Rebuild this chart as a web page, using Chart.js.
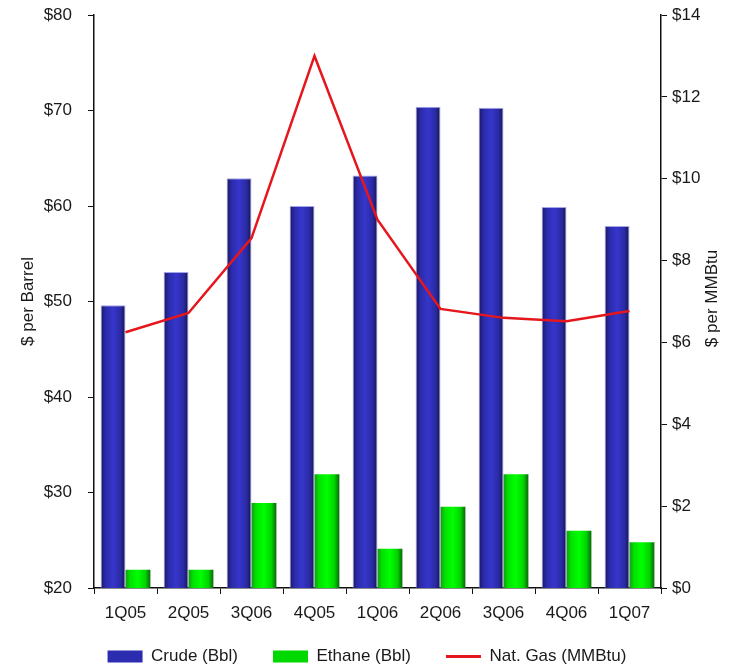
<!DOCTYPE html>
<html>
<head>
<meta charset="utf-8">
<script src="https://cdn.jsdelivr.net/npm/chart.js@4/dist/chart.umd.min.js"></script>
<style>
  body { margin: 0; background: #fff; }
  canvas { display: block; }
</style>
</head>
<body>
<canvas id="prices" width="734" height="665"></canvas>
<script>
const quarters = ['1Q05', '2Q05', '3Q06', '4Q05', '1Q06', '2Q06', '3Q06', '4Q06', '1Q07'];
const crude = [49.6, 53.1, 62.9, 60.0, 63.2, 70.4, 70.3, 59.9, 57.9];
const ethane = [21.9, 21.9, 28.9, 31.9, 24.1, 28.5, 31.9, 26.0, 24.8];
const natGas = [6.25, 6.72, 8.55, 13.0, 9.0, 6.82, 6.6, 6.52, 6.77];
const barrelTicks = [20, 30, 40, 50, 60, 70, 80];
const mmbtuTicks = [0, 2, 4, 6, 8, 10, 12, 14];

const FONT = '"Liberation Sans", Arial, sans-serif';
const INK = '#1a1a1a';
const CAT_PCT = 0.79;

const blueStops = [[0, '#17175a'], [0.2, '#2b2bab'], [0.5, '#3636cc'], [0.8, '#2a2aa4'], [1, '#15154e']];
const greenStops = [[0, '#159a15'], [0.18, '#00e200'], [0.5, '#00ff00'], [0.8, '#00d400'], [1, '#0b660b']];

// horizontal shading across each bar, like the old office-style cylinders
function barShade(stops, fallback) {
  return (c) => {
    const chart = c.chart;
    const xs = chart.scales.x;
    if (!chart.chartArea || !xs || c.dataIndex == null) return fallback;
    const center = xs.getPixelForValue(c.dataIndex);
    const w = xs.width / quarters.length * CAT_PCT / 2;
    const left = c.datasetIndex === 0 ? center - w : center;
    const g = chart.ctx.createLinearGradient(left, 0, left + w, 0);
    stops.forEach(([o, col]) => g.addColorStop(o, col));
    return g;
  };
}

// fixed box widths for the value axes, no extra room for half labels
function fixWidth(w) {
  return (s) => {
    s.width = w;
    s.paddingTop = 0;
    s.paddingBottom = 0;
  };
}

// right-hand axis title reads bottom-to-top like the left one
const rightTitle = {
  id: 'rightTitle',
  afterDraw(chart) {
    const { ctx, chartArea } = chart;
    ctx.save();
    ctx.translate(712, (chartArea.top + chartArea.bottom) / 2 - 3);
    ctx.rotate(-Math.PI / 2);
    ctx.font = '17px ' + FONT;
    ctx.fillStyle = INK;
    ctx.textAlign = 'center';
    ctx.textBaseline = 'middle';
    ctx.fillText('$ per MMBtu', 0, 0);
    ctx.restore();
  }
};

// wide gaps between legend items come from labels.padding, which also
// pushes the row down; pull the legend back up after layout
const legendLift = {
  id: 'legendLift',
  afterLayout(chart) {
    const lg = chart.legend;
    if (!lg) return;
    lg.top -= 10;
    lg.bottom -= 10;
  }
};

const chart = new Chart(document.getElementById('prices'), {
  type: 'bar',
  data: {
    labels: quarters,
    datasets: [
      {
        label: 'Crude (Bbl)',
        data: crude,
        yAxisID: 'y',
        backgroundColor: barShade(blueStops, '#3030c0'),
        borderColor: 'rgba(150,150,225,0.85)',
        borderWidth: 1,
        categoryPercentage: CAT_PCT,
        barPercentage: 1,
        order: 2
      },
      {
        label: 'Ethane (Bbl)',
        data: ethane,
        yAxisID: 'y',
        backgroundColor: barShade(greenStops, '#00e000'),
        borderWidth: 0,
        categoryPercentage: CAT_PCT,
        barPercentage: 1,
        order: 2
      },
      {
        type: 'line',
        label: 'Nat. Gas (MMBtu)',
        data: natGas,
        yAxisID: 'y1',
        borderColor: '#e5161c',
        backgroundColor: '#e5161c',
        borderWidth: 2.5,
        pointRadius: 0,
        tension: 0,
        order: 1
      }
    ]
  },
  options: {
    responsive: false,
    animation: false,
    layout: { autoPadding: false, padding: { top: 15, left: 0, right: 0, bottom: -20 } },
    plugins: {
      tooltip: { enabled: false },
      legend: {
        position: 'bottom',
        labels: {
          usePointStyle: true,
          pointStyleWidth: 35,
          boxHeight: 12,
          padding: 35,
          color: INK,
          font: { family: FONT, size: 17 },
          generateLabels: () => [
            { text: 'Crude (Bbl)', fillStyle: '#2c2cb0', strokeStyle: '#2c2cb0', lineWidth: 0, pointStyle: 'rect', datasetIndex: 0, fontColor: INK },
            { text: 'Ethane (Bbl)', fillStyle: '#00d800', strokeStyle: '#00d800', lineWidth: 0, pointStyle: 'rect', datasetIndex: 1, fontColor: INK },
            { text: 'Nat. Gas (MMBtu)', fillStyle: '#e5161c', strokeStyle: '#e5161c', lineWidth: 3, pointStyle: 'line', datasetIndex: 2, fontColor: INK }
          ]
        }
      }
    },
    scales: {
      x: {
        afterFit: (s) => { s.height = 35; },
        border: { color: '#111', width: 1.5 },
        grid: { drawOnChartArea: false, color: '#111', tickLength: 6, offset: true },
        ticks: { color: INK, padding: 9, font: { family: FONT, size: 17 } }
      },
      y: {
        position: 'left',
        min: barrelTicks[0],
        max: barrelTicks[barrelTicks.length - 1],
        afterFit: fixWidth(94),
        afterBuildTicks: (s) => { s.ticks = barrelTicks.map(v => ({ value: v })); },
        border: { color: '#111', width: 1.5 },
        grid: { drawOnChartArea: false, color: '#111', tickLength: 6 },
        ticks: { color: INK, padding: 16, font: { family: FONT, size: 17 }, callback: v => '$' + v },
        title: { display: true, text: '$ per Barrel', color: INK, padding: { top: 18, bottom: 0 }, font: { family: FONT, size: 17 } }
      },
      y1: {
        position: 'right',
        min: mmbtuTicks[0],
        max: mmbtuTicks[mmbtuTicks.length - 1],
        afterFit: fixWidth(73),
        afterBuildTicks: (s) => { s.ticks = mmbtuTicks.map(v => ({ value: v })); },
        border: { color: '#111', width: 1.5 },
        grid: { drawOnChartArea: false, color: '#111', tickLength: 6 },
        ticks: { color: INK, padding: 5, font: { family: FONT, size: 17 }, callback: v => '$' + v }
      }
    }
  },
  plugins: [rightTitle, legendLift]
});
</script>
</body>
</html>
